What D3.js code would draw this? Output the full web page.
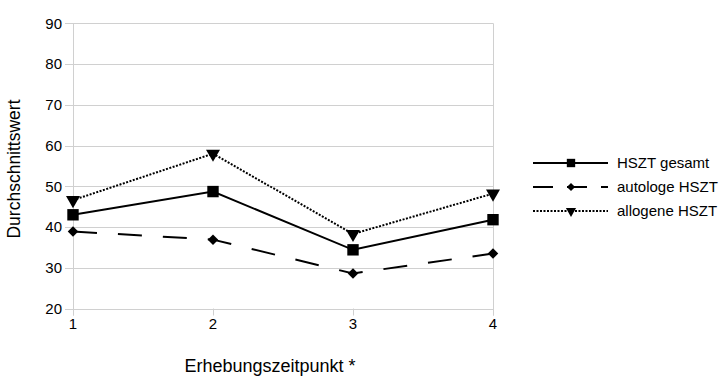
<!DOCTYPE html>
<html lang="de">
<head>
<meta charset="utf-8">
<title>Durchschnittswert</title>
<script src="https://cdn.jsdelivr.net/npm/d3@7"></script>
<style>
  body { margin: 0; background: #fff; }
  svg { font-family: "Liberation Sans", Arial, sans-serif; }
  .grid line { stroke: #d0d0d0; stroke-width: 1px; }
  .axis text { font-size: 15px; fill: #000; }
</style>
</head>
<body>
<div id="chart"></div>
<script>
// Werte
var zeitpunkte = [1, 2, 3, 4];
var yTicks = [20, 30, 40, 50, 60, 70, 80, 90];
var gesamt   = [43.0, 48.7, 34.4, 41.8];
var autolog  = [38.9, 36.9, 28.6, 33.5];
var allogen  = [46.6, 58.0, 38.3, 48.2];
var serienNamen = ["HSZT gesamt", "autologe HSZT", "allogene HSZT"];

var width = 728, height = 390;

var svg = d3.select("#chart").append("svg")
    .attr("width", width)
    .attr("height", height);

var x = d3.scaleLinear().domain([1, 4]).range([73, 493]);
var y = d3.scaleLinear().domain([20, 90]).range([308.5, 23.3]);

// horizontale Gitterlinien mit kleinen Ticks links
var grid = svg.append("g").attr("class", "grid");
grid.selectAll(".h").data(yTicks).enter().append("line")
    .attr("x1", x(1) - 8).attr("x2", x(4))
    .attr("y1", function(d) { return Math.round(y(d)) + 0.5; })
    .attr("y2", function(d) { return Math.round(y(d)) + 0.5; });
// linker und rechter Rand
grid.selectAll(".v").data([1, 4]).enter().append("line")
    .attr("x1", function(d) { return Math.round(x(d)) + 0.5; })
    .attr("x2", function(d) { return Math.round(x(d)) + 0.5; })
    .attr("y1", y(90)).attr("y2", y(20) + 7);
// kleine Ticks unten
grid.selectAll(".t").data(zeitpunkte).enter().append("line")
    .attr("x1", function(d) { return Math.round(x(d)) + 0.5; })
    .attr("x2", function(d) { return Math.round(x(d)) + 0.5; })
    .attr("y1", y(20)).attr("y2", y(20) + 7);

var axes = svg.append("g").attr("class", "axis");
axes.selectAll(".yl").data(yTicks).enter().append("text")
    .attr("x", 62).attr("y", function(d) { return y(d); })
    .attr("dy", "0.35em")
    .attr("text-anchor", "end")
    .text(function(d) { return d; });
axes.selectAll(".xl").data(zeitpunkte).enter().append("text")
    .attr("x", function(d) { return x(d); })
    .attr("y", 329)
    .attr("text-anchor", "middle")
    .text(function(d) { return d; });

svg.append("text")
    .attr("transform", "translate(20,169) rotate(-90)")
    .attr("text-anchor", "middle")
    .style("font-size", "17.5px")
    .text("Durchschnittswert");

svg.append("text")
    .attr("x", 270).attr("y", 372)
    .attr("text-anchor", "middle")
    .style("font-size", "18px")
    .text("Erhebungszeitpunkt *");

var serien = [
  { name: serienNamen[0], werte: gesamt,  dash: null,    sym: d3.symbolSquare,   size: 130, rot: 0,   lsize: 70 },
  { name: serienNamen[1], werte: autolog, dash: "24,21", sym: d3.symbolSquare,   size: 55,  rot: 45,  lsize: 34 },
  { name: serienNamen[2], werte: allogen, dash: "2,1.5", sym: d3.symbolTriangle, size: 85,  rot: 180, lsize: 45 }
];

var line = d3.line()
    .x(function(d, i) { return x(zeitpunkte[i]); })
    .y(function(d) { return y(d); });

serien.forEach(function(s) {
  var g = svg.append("g");
  g.append("path")
      .datum(s.werte)
      .attr("d", line)
      .attr("fill", "none")
      .attr("stroke", "#000")
      .attr("stroke-width", 2)
      .attr("stroke-dasharray", s.dash);
  g.selectAll("path.m").data(s.werte).enter().append("path")
      .attr("class", "m")
      .attr("d", d3.symbol().type(s.sym).size(s.size))
      .attr("transform", function(d, i) {
        return "translate(" + x(zeitpunkte[i]) + "," + y(d) + ") rotate(" + s.rot + ")";
      })
      .attr("fill", "#000");
});

// Legende
var legend = svg.append("g").attr("transform", "translate(533,163)");
serien.forEach(function(s, i) {
  var row = legend.append("g").attr("transform", "translate(0," + (i * 24) + ")");
  row.append("line")
      .attr("x1", 0).attr("x2", 75).attr("y1", 0).attr("y2", 0)
      .attr("stroke", "#000").attr("stroke-width", 2)
      .attr("stroke-dasharray", s.dash ? (i === 1 ? "20,14" : "2,1.5") : null);
  row.append("path")
      .attr("d", d3.symbol().type(s.sym).size(s.lsize))
      .attr("transform", "translate(38,0) rotate(" + s.rot + ")")
      .attr("fill", "#000");
  row.append("text")
      .attr("x", 84).attr("y", 0).attr("dy", "0.35em")
      .style("font-size", "15px")
      .text(s.name);
});
</script>
</body>
</html>
